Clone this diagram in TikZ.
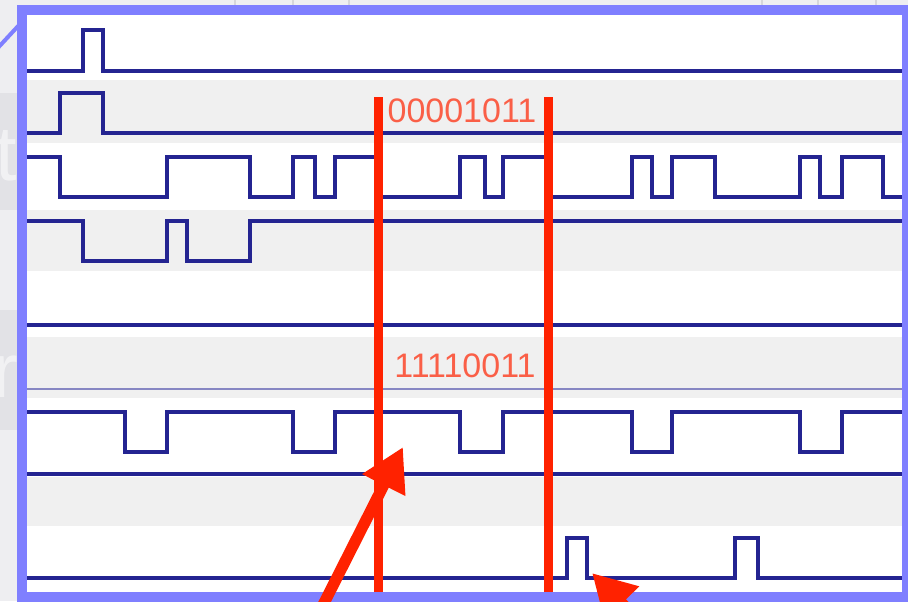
\documentclass[tikz,border=0pt]{standalone}
\usepackage{fontspec}
\setmainfont{Liberation Sans}
\usetikzlibrary{arrows.meta}
\definecolor{frameblue}{RGB}{127,127,255}
\definecolor{sig}{RGB}{36,36,145}
\definecolor{markred}{RGB}{255,34,0}
\definecolor{band}{RGB}{240,240,240}
\definecolor{outbg}{RGB}{238,238,241}
\definecolor{sidebox}{RGB}{226,226,230}
\definecolor{tickgray}{RGB}{214,214,218}
\begin{document}
\begin{tikzpicture}[x=0.75pt,y=-0.75pt,
  sigline/.style={draw=sig,line width=2.6pt,line join=miter},
  thinsig/.style={draw=sig!55,line width=1.4pt},
  bandfill/.style={fill=band},
  cursor/.style={draw=markred,line width=6.75pt},
  bits/.style={text=markred,opacity=0.7,font=\fontsize{25.5pt}{26pt}\selectfont,inner sep=0pt},
  ghost/.style={text=white,opacity=0.55,font=\fontsize{58pt}{60pt}\selectfont,inner sep=0pt},
  pointer/.style={draw=markred,line width=8.5pt,-{Triangle[length=32pt,width=34pt]}},
  tick/.style={draw=tickgray,line width=1.5pt}]
\useasboundingbox (0,0) rectangle (908,601);
\clip (0,0) rectangle (908,601);
% outside background
\fill[outbg] (0,0) rectangle (908,601);
\fill[sidebox] (0,93) rectangle (17,210);
\fill[sidebox] (0,310) rectangle (17,430);
\node[ghost,anchor=base east] (gt) at (17,180) {t};
\node[ghost,anchor=base east] (gr) at (19,397) {r};
\foreach \tx in {235,293,349,762,818,876} \draw[tick] (\tx,0) -- (\tx,5);
% inside
\fill[white] (22,10) rectangle (907,597);
\fill[bandfill] (27,80) rectangle (902,143);
\fill[bandfill] (27,210) rectangle (902,271);
\fill[bandfill] (27,337) rectangle (902,398);
\fill[bandfill] (27,477) rectangle (902,526);
% signals
\draw[sigline] (27,71) -- (83,71) -- (83,30) -- (103,30) -- (103,71) -- (902,71);
\draw[sigline] (27,133) -- (60,133) -- (60,93) -- (103,93) -- (103,133) -- (902,133);
\draw[sigline] (27,157) -- (60,157) -- (60,197) -- (167,197) -- (167,157) -- (250,157) -- (250,197)
  -- (293,197) -- (293,157) -- (315,157) -- (315,197) -- (335,197) -- (335,157) -- (378,157)
  -- (378,197) -- (460,197) -- (460,157) -- (485,157) -- (485,197) -- (503,197) -- (503,157)
  -- (548,157) -- (548,197) -- (632,197) -- (632,157) -- (652,157) -- (652,197) -- (672,197)
  -- (672,157) -- (715,157) -- (715,197) -- (800,197) -- (800,157) -- (820,157) -- (820,197)
  -- (842,197) -- (842,157) -- (883,157) -- (883,197) -- (902,197);
\draw[sigline] (27,221) -- (83,221) -- (83,261) -- (167,261) -- (167,221) -- (187,221) -- (187,261)
  -- (250,261) -- (250,221) -- (902,221);
\draw[sigline] (27,325) -- (902,325);
\draw[thinsig] (27,389) -- (902,389);
\draw[sigline] (27,412) -- (125,412) -- (125,452) -- (167,452) -- (167,412) -- (293,412) -- (293,452)
  -- (335,452) -- (335,412) -- (460,412) -- (460,452) -- (503,452) -- (503,412) -- (632,412)
  -- (632,452) -- (672,452) -- (672,412) -- (800,412) -- (800,452) -- (842,452) -- (842,412) -- (902,412);
\draw[sigline] (27,474) -- (902,474);
\draw[sigline] (27,578) -- (567,578) -- (567,538) -- (587,538) -- (587,578) -- (735,578) -- (735,538)
  -- (758,538) -- (758,578) -- (902,578);
% cursors
\draw[cursor] (378,97) -- (378,592);
\draw[cursor] (548,97) -- (548,592);
\node[bits] (b1) at (462,111) {00001011};
\node[bits] (b2) at (465,366) {11110011};
% frame
\draw[frameblue,line width=7.5pt] (22,10) rectangle (907,597);
\draw[frameblue,line width=3pt] (-5,51) -- (20,24);
% pointers
\coordinate (p1s) at (318,615);
\coordinate (p1t) at (403,447);
\coordinate (p2s) at (664,646);
\coordinate (p2t) at (592,573);
\draw[pointer] (p1s) -- (p1t);
\draw[pointer] (p2s) -- (p2t);
\end{tikzpicture}
\end{document}
